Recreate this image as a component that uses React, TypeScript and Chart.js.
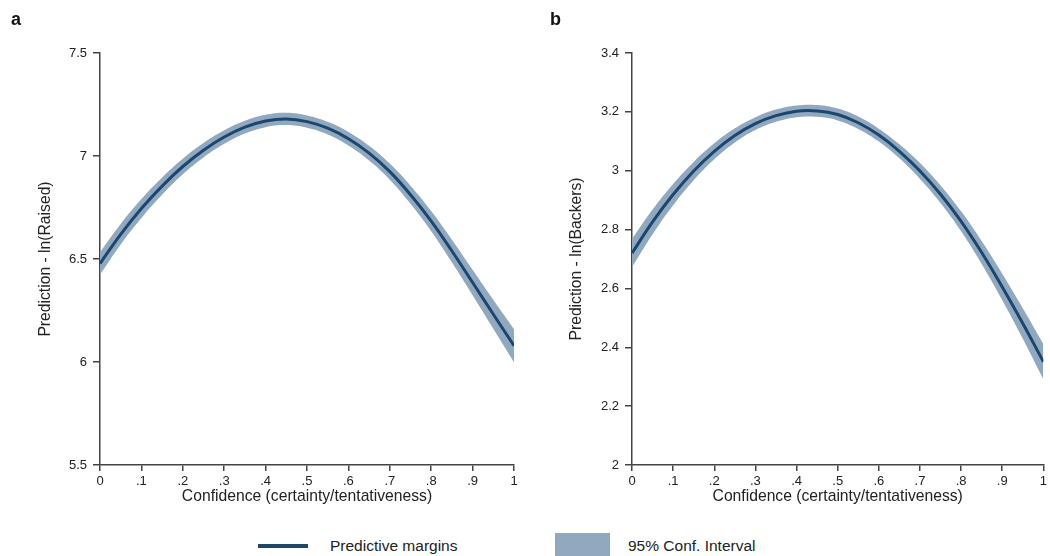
import React, { useEffect, useRef } from "react";
import { Chart, registerables } from "chart.js";

Chart.register(...registerables);

const confidence = [0, 0.05, 0.1, 0.15, 0.2, 0.25, 0.3, 0.35, 0.4, 0.45, 0.5, 0.55, 0.6, 0.65, 0.7, 0.75, 0.8, 0.85, 0.9, 0.95, 1];

const raisedMargin = [6.478, 6.62, 6.745, 6.854, 6.949, 7.028, 7.092, 7.14, 7.17, 7.18, 7.167, 7.135, 7.084, 7.014, 6.924, 6.812, 6.684, 6.539, 6.386, 6.232, 6.079];
const raisedLower = [6.423, 6.57, 6.699, 6.812, 6.911, 6.993, 7.059, 7.109, 7.14, 7.15, 7.137, 7.104, 7.051, 6.978, 6.885, 6.768, 6.635, 6.484, 6.324, 6.162, 5.999];
const raisedUpper = [6.533, 6.67, 6.791, 6.896, 6.987, 7.063, 7.125, 7.171, 7.2, 7.21, 7.197, 7.166, 7.117, 7.05, 6.963, 6.856, 6.733, 6.594, 6.448, 6.302, 6.159];

const backersMargin = [2.72, 2.826, 2.919, 2.999, 3.066, 3.12, 3.16, 3.187, 3.202, 3.203, 3.191, 3.163, 3.121, 3.066, 2.999, 2.92, 2.828, 2.722, 2.605, 2.481, 2.351];
const backersLower = [2.672, 2.784, 2.883, 2.968, 3.039, 3.096, 3.138, 3.166, 3.182, 3.183, 3.171, 3.142, 3.099, 3.042, 2.972, 2.89, 2.794, 2.683, 2.56, 2.429, 2.291];
const backersUpper = [2.768, 2.868, 2.955, 3.03, 3.093, 3.144, 3.182, 3.208, 3.222, 3.223, 3.211, 3.184, 3.143, 3.09, 3.026, 2.95, 2.862, 2.761, 2.65, 2.533, 2.411];

const xTitle = "Confidence (certainty/tentativeness)";
const legendLine = "Predictive margins";
const legendBand = "95% Conf. Interval";

const LINE = "#1a476f";
const BAND = "#91a9bf";
const AXIS = "#444";
const TEXT = "#222";
const FONT = "'Liberation Sans', Arial, sans-serif";

function pts(ys: number[]) {
  return confidence.map((x, i) => ({ x, y: ys[i] }));
}

function fmtX(v: number) {
  const r = Math.round(v * 10) / 10;
  if (r === 0) return "0";
  if (r === 1) return "1";
  return String(r).replace(/^0/, "");
}

function fmtY(v: number) {
  return String(Number(v.toFixed(2)));
}

type PanelProps = {
  left: number;
  width: number;
  padLeft: number;
  axisWidth: number;
  padRight: number;
  yMin: number;
  yMax: number;
  yStep: number;
  yTitle: string;
  margin: number[];
  lower: number[];
  upper: number[];
};

function Panel(p: PanelProps) {
  const ref = useRef<HTMLCanvasElement>(null);
  useEffect(() => {
    if (!ref.current) return;
    const chart = new Chart(ref.current, {
      type: "line",
      data: {
        datasets: [
          {
            label: legendLine,
            data: pts(p.margin),
            borderColor: LINE,
            borderWidth: 3,
            pointRadius: 0,
            fill: false,
            tension: 0.4,
          },
          {
            label: "upper",
            data: pts(p.upper),
            borderWidth: 0,
            borderColor: "rgba(0,0,0,0)",
            backgroundColor: BAND,
            pointRadius: 0,
            fill: "+1",
            tension: 0.4,
          },
          {
            label: "lower",
            data: pts(p.lower),
            borderWidth: 0,
            borderColor: "rgba(0,0,0,0)",
            pointRadius: 0,
            fill: false,
            tension: 0.4,
          },
        ],
      },
      options: {
        animation: false,
        responsive: false,
        maintainAspectRatio: false,
        layout: { padding: { left: p.padLeft, right: p.padRight, top: 53, bottom: 0 } },
        plugins: { legend: { display: false }, tooltip: { enabled: false } },
        scales: {
          x: {
            type: "linear",
            min: 0,
            max: 1,
            afterFit: (s: any) => {
              s.height = 45;
            },
            ticks: {
              stepSize: 0.1,
              callback: (v: any) => fmtX(Number(v)),
              color: TEXT,
              font: { family: FONT, size: 13 },
              padding: 3,
              maxRotation: 0,
              autoSkip: false,
            },
            grid: { drawOnChartArea: false, drawTicks: true, tickLength: 6, color: AXIS, lineWidth: 1.5 },
            border: { display: true, color: AXIS, width: 1.5 },
            title: {
              display: true,
              text: xTitle,
              color: TEXT,
              font: { family: FONT, size: 15.7 },
              padding: { top: 0, bottom: 3.5 },
            },
          },
          y: {
            type: "linear",
            min: p.yMin,
            max: p.yMax,
            afterFit: (s: any) => {
              s.width = p.axisWidth;
            },
            ticks: {
              stepSize: p.yStep,
              callback: (v: any) => fmtY(Number(v)),
              color: TEXT,
              font: { family: FONT, size: 13 },
              padding: 6,
            },
            grid: { drawOnChartArea: false, drawTicks: true, tickLength: 7, color: AXIS, lineWidth: 1.5 },
            border: { display: true, color: AXIS, width: 1.5 },
            title: {
              display: true,
              text: p.yTitle,
              color: TEXT,
              font: { family: FONT, size: 15.7 },
              padding: { top: 4, bottom: 0 },
            },
          },
        },
      },
    });
    return () => chart.destroy();
  }, []);
  return (
    <canvas
      ref={ref}
      width={p.width}
      height={510}
      style={{ position: "absolute", left: p.left, top: 0, width: p.width, height: 510 }}
    />
  );
}

export default function App() {
  return (
    <div style={{ position: "absolute", left: 0, top: 0, width: 1050, height: 556, background: "#fff", overflow: "hidden", fontFamily: FONT }}>
      <Panel
        left={0}
        width={530}
        padLeft={32}
        axisWidth={68}
        padRight={16}
        yMin={5.5}
        yMax={7.5}
        yStep={0.5}
        yTitle="Prediction - ln(Raised)"
        margin={raisedMargin}
        lower={raisedLower}
        upper={raisedUpper}
      />
      <Panel
        left={530}
        width={520}
        padLeft={33}
        axisWidth={69}
        padRight={6}
        yMin={2}
        yMax={3.4}
        yStep={0.2}
        yTitle="Prediction - ln(Backers)"
        margin={backersMargin}
        lower={backersLower}
        upper={backersUpper}
      />
      <div style={{ position: "absolute", left: 11, top: 9, fontWeight: "bold", fontSize: 18, color: "#111" }}>a</div>
      <div style={{ position: "absolute", left: 550, top: 9, fontWeight: "bold", fontSize: 18, color: "#111" }}>b</div>
      <div style={{ position: "absolute", left: 258, top: 544, width: 50, height: 4, background: LINE }} />
      <div style={{ position: "absolute", left: 330, top: 536, fontSize: 15.5, color: TEXT, lineHeight: "20px" }}>{legendLine}</div>
      <div style={{ position: "absolute", left: 555, top: 533, width: 55, height: 30, background: BAND }} />
      <div style={{ position: "absolute", left: 628, top: 536, fontSize: 15.5, color: TEXT, lineHeight: "20px" }}>{legendBand}</div>
    </div>
  );
}
